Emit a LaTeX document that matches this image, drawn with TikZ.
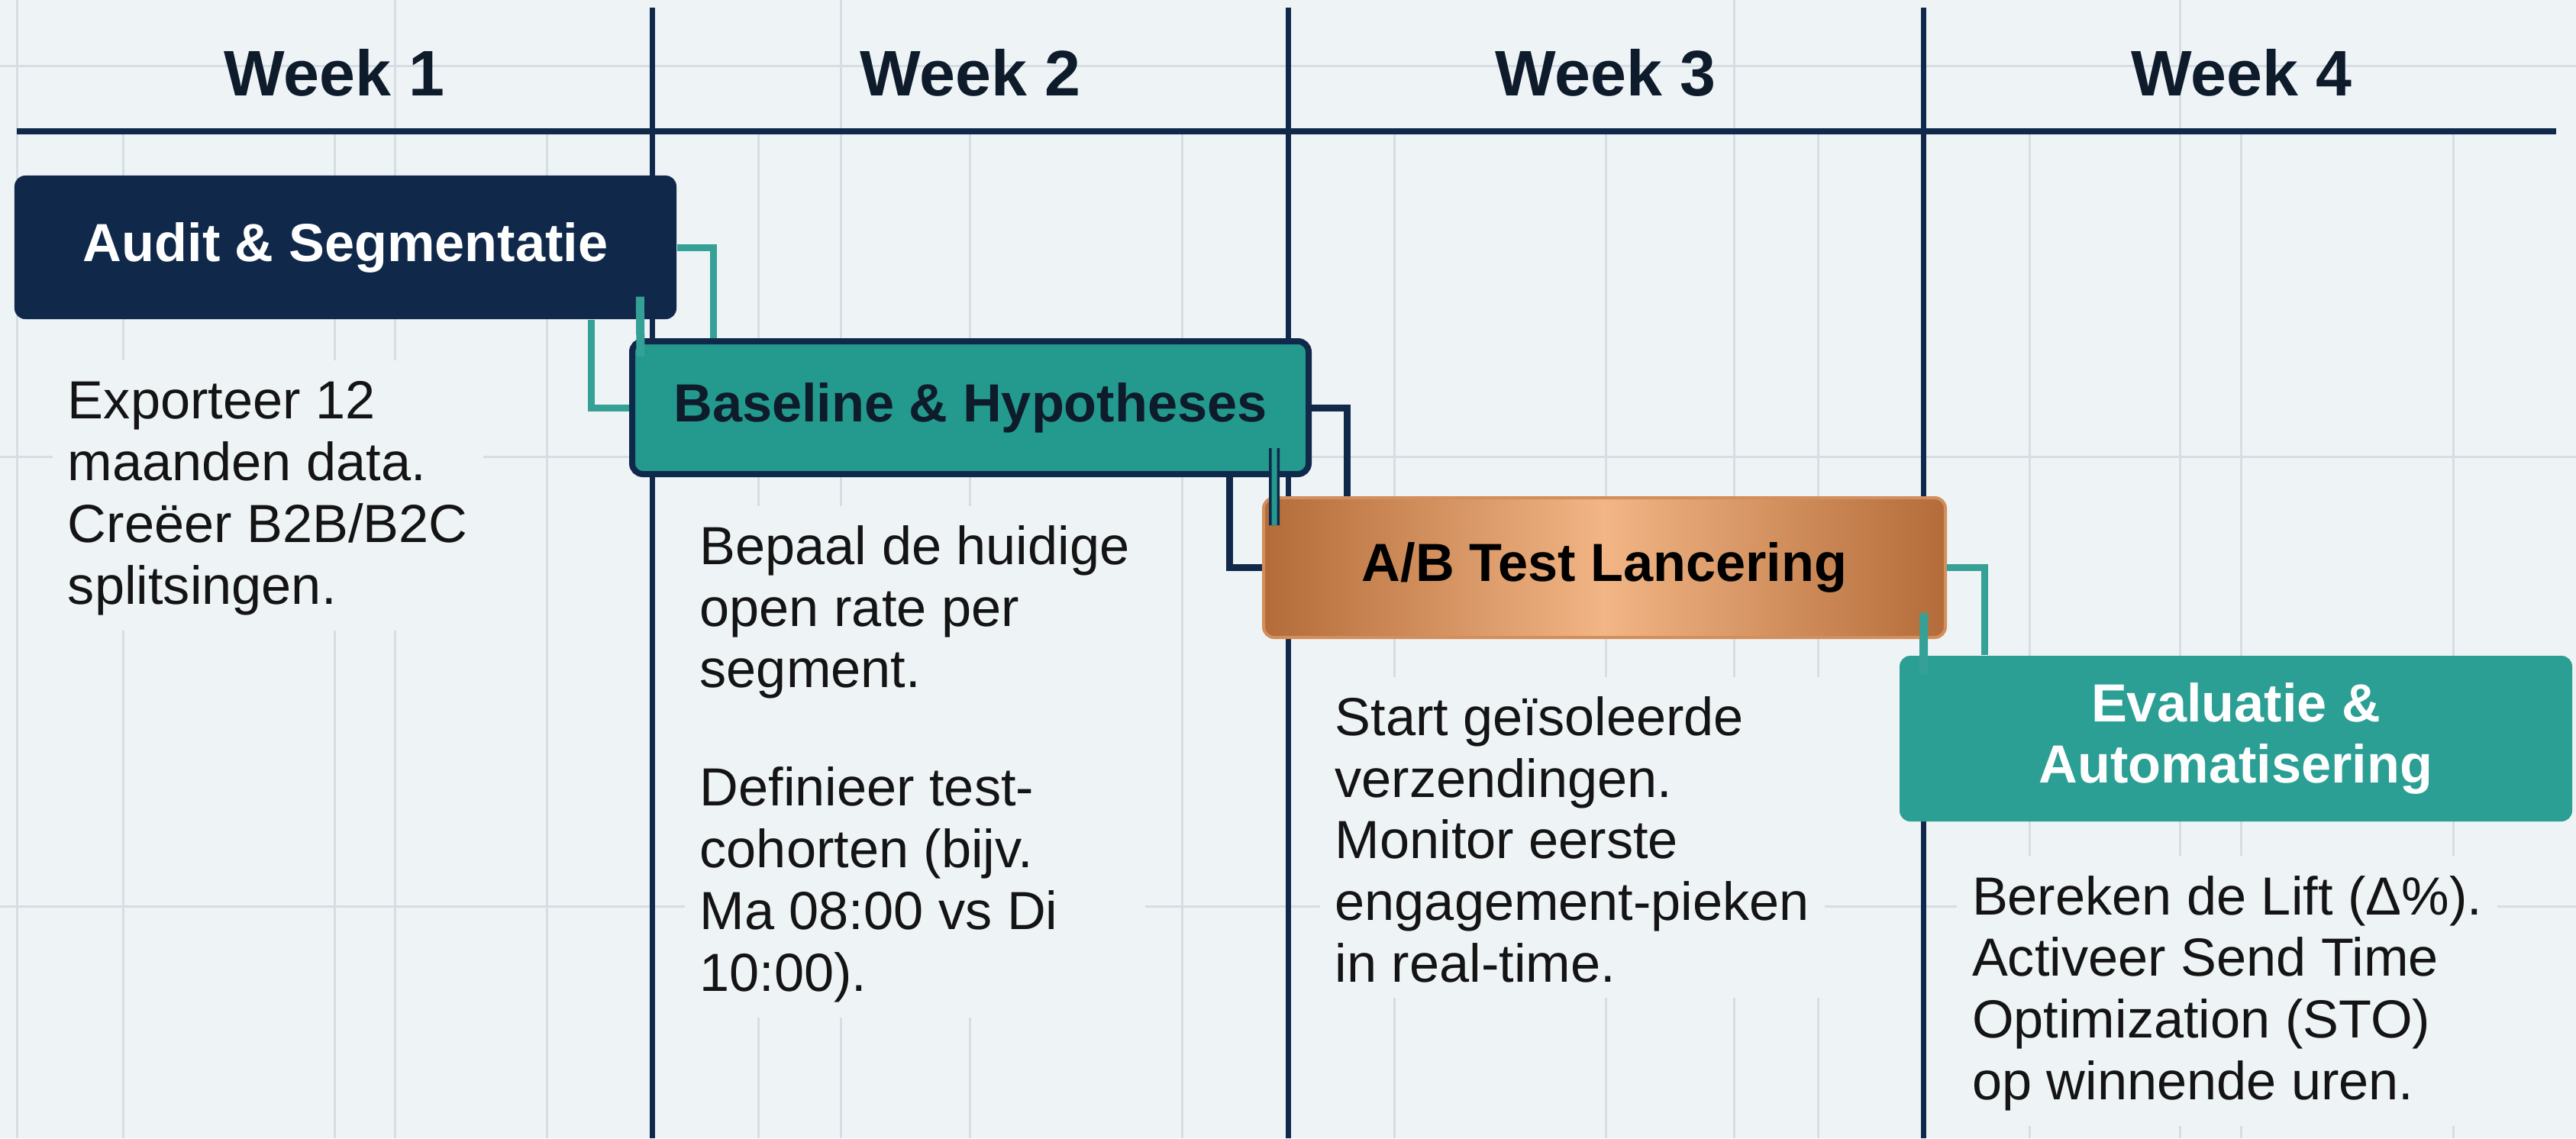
\documentclass[tikz,border=0pt]{standalone}
\usepackage{fontspec}
\setmainfont{Liberation Sans}
\usepackage{tikz}
\usetikzlibrary{positioning}
\usepackage{xcolor}

\definecolor{paper}{HTML}{EEF3F6}
\definecolor{gridgray}{HTML}{D6DEE4}
\definecolor{navy}{HTML}{10294A}
\definecolor{ink}{HTML}{0E1B2B}
\definecolor{tealbox}{HTML}{24998E}
\definecolor{evalteal}{HTML}{2C9F95}
\definecolor{linkteal}{HTML}{35A096}
\definecolor{copperdark}{HTML}{B36C39}
\definecolor{copperlight}{HTML}{F2B585}
\definecolor{copperedge}{HTML}{D38E5C}

\newcommand{\weekfont}{\fontsize{24}{28}\selectfont\bfseries}
\newcommand{\phasefont}{\fontsize{20}{23}\selectfont\bfseries}
\newcommand{\descfont}{\fontsize{20}{23}\selectfont}

\begin{document}
\begin{tikzpicture}[
    week/.style={font=\weekfont, text=ink, anchor=base},
    phase/.style={rounded corners=0.14cm, inner sep=0pt, font=\phasefont, align=center},
    desc/.style={font=\descfont, text=black!92, fill=paper, align=left, inner sep=0.2cm, below right=#1},
    gridline/.style={gridgray, line width=0.03cm},
    weekline/.style={navy, line width=0.07cm},
    link/.style={line width=0.09cm, #1}]
    \useasboundingbox (0,0) rectangle (33.74,14.91);
    \fill[paper] (0,0) rectangle (33.74,14.91);
    \foreach \k in {0,...,3}
      \foreach \d in {1.39,4.16,6.94}
        \draw[gridline] ({0.22+8.325*\k+\d},0) -- ++(0,13.19);
    \foreach \x in {0.22,5.17,11.01,22.71,28.55}
      \draw[gridline] (\x,0) -- (\x,14.91);
    \foreach \y in {14.04,8.93,3.04}
      \draw[gridline] (0,\y) -- (33.74,\y);
    \foreach \x in {8.545,16.87,25.195}
      \draw[weekline] (\x,0) -- (\x,14.81);
    \draw[navy, line width=0.08cm] (0.22,13.19) -- (33.48,13.19);
    \foreach \i in {1,...,4}
      \node[week] (week\i) at ({0.22+8.325*(\i-0.5)},13.65) {Week \i};

    \node[phase, fill=navy, text=white, minimum width=8.67cm, minimum height=1.88cm] (audit) at (4.525,11.67) {Audit \& Segmentatie};
    \node[phase, fill=tealbox, draw=navy, line width=0.08cm, text=ink, minimum width=8.86cm, minimum height=1.74cm] (baseline) at (12.71,9.57) {Baseline \& Hypotheses};
    \node[phase, left color=copperdark, right color=copperdark, middle color=copperlight, draw=copperedge, line width=0.04cm, text=black, minimum width=8.93cm, minimum height=1.83cm] (abtest) at (21.015,7.475) {A/B Test Lancering};
    \node[phase, fill=evalteal, text=white, minimum width=8.81cm, minimum height=2.17cm] (eval) at (29.285,5.235) {Evaluatie \&\\Automatisering};

    \draw[link=linkteal] (audit.east) -| ([xshift=1.10cm]baseline.north west);
    \draw[link=linkteal] ([xshift=7.56cm]audit.south west) |- (baseline.west);
    \draw[link=navy] (baseline.east) -| ([xshift=1.11cm]abtest.north west);
    \draw[link=navy] ([xshift=7.86cm]baseline.south west) |- (abtest.west);
    \draw[link=linkteal] (abtest.east) -| ([xshift=1.12cm]eval.north west);

    \draw[link=linkteal, line width=0.11cm] ([xshift=8.20cm,yshift=0.30cm]audit.south west) -- ([xshift=0.15cm,yshift=-0.24cm]baseline.north west);
    \draw[link=navy, line width=0.035cm, double=tealbox, double distance=0.07cm] ([xshift=8.45cm,yshift=0.38cm]baseline.south west) -- ([xshift=0.16cm,yshift=-0.38cm]abtest.north west);
    \draw[link=linkteal, line width=0.11cm] ([xshift=8.67cm,yshift=0.34cm]abtest.south west) -- ([xshift=0.32cm,yshift=-0.25cm]eval.north west);

    \node[desc=0.53cm and 0.50cm of audit.south west] (auditdesc) {\strut Exporteer 12\\maanden data.\\Creëer B2B/B2C\\splitsingen.};
    \node[desc=0.37cm and 0.72cm of baseline.south west] (baselinedesc) {\strut Bepaal de huidige\\open rate per\\segment.\\[21pt]Definieer test-\\cohorten (bijv.\\Ma 08:00 vs Di\\10:00).};
    \node[desc=0.49cm and 0.75cm of abtest.south west] (abtestdesc) {\strut Start geïsoleerde\\verzendingen.\\Monitor eerste\\engagement-pieken\\in real-time.};
    \node[desc=0.44cm and 0.75cm of eval.south west] (evaldesc) {\strut Bereken de Lift (Δ\%).\\Activeer Send Time\\Optimization (STO)\\op winnende uren.};
\end{tikzpicture}
\end{document}
